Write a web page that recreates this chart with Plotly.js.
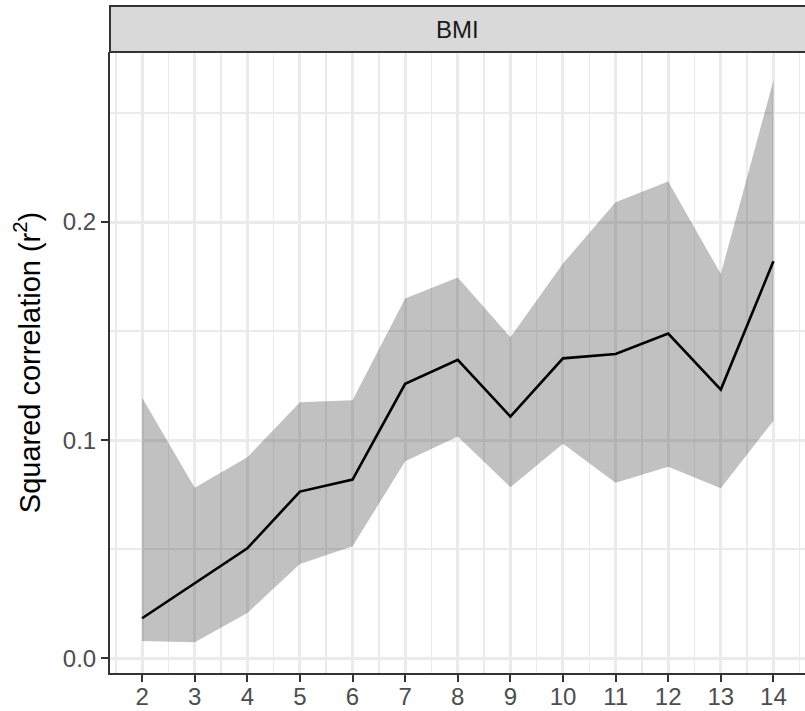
<!DOCTYPE html>
<html>
<head>
<meta charset="utf-8">
<script src="https://cdn.plot.ly/plotly-3.0.1.min.js"></script>
<style>html,body{margin:0;padding:0;background:#fff;}#chart{width:805px;height:711px;}</style>
</head>
<body>
<div id="chart"></div>
<script>
const windowSizes = [2, 3, 4, 5, 6, 7, 8, 9, 10, 11, 12, 13, 14];
const meanR2  = [0.0183, 0.0343, 0.0504, 0.0764, 0.0819, 0.1258, 0.1368, 0.1108, 0.1375, 0.1395, 0.1489, 0.1232, 0.1820];
const upperR2 = [0.1194, 0.0782, 0.0921, 0.1174, 0.1183, 0.1650, 0.1746, 0.1472, 0.1810, 0.2091, 0.2186, 0.1762, 0.2650];
const lowerR2 = [0.0079, 0.0073, 0.0207, 0.0432, 0.0513, 0.0903, 0.1017, 0.0784, 0.0983, 0.0804, 0.0878, 0.0779, 0.1089];
const stripLabel = 'BMI';
const yTitle = 'Squared correlation (r<sup>2</sup>)';

const FONT = 'Liberation Sans, Arial, Helvetica, sans-serif';
const W = 805, H = 711;
const M = {l: 110, r: 0, t: 52, b: 38};
const plotH = H - M.t - M.b;

const traces = [
  {x: windowSizes, y: lowerR2, type: 'scatter', mode: 'lines', line: {width: 0, color: 'rgba(0,0,0,0)'}, hoverinfo: 'skip', showlegend: false},
  {x: windowSizes, y: upperR2, type: 'scatter', mode: 'lines', fill: 'tonexty', fillcolor: 'rgba(51,51,51,0.3)', line: {width: 0, color: 'rgba(0,0,0,0)'}, hoverinfo: 'skip', showlegend: false},
  {x: windowSizes, y: meanR2, type: 'scatter', mode: 'lines', line: {color: '#000000', width: 2.6}, showlegend: false}
];

const layout = {
  width: W, height: H,
  margin: M,
  paper_bgcolor: '#ffffff', plot_bgcolor: '#ffffff',
  font: {family: FONT, color: '#4D4D4D'},
  showlegend: false,
  xaxis: {
    range: [1.39, 14.6], tickmode: 'array', tickvals: windowSizes, ticktext: windowSizes.map(String),
    showgrid: true, gridcolor: '#EBEBEB', gridwidth: 3,
    minor: {dtick: 0.5, tick0: 1.5, showgrid: true, gridcolor: '#EBEBEB', gridwidth: 1.5, ticklen: 0},
    zeroline: false, showline: true, linecolor: '#333333', linewidth: 2,
    ticks: 'outside', ticklen: 7, tickwidth: 2, tickcolor: '#333333',
    ticklabelstandoff: -6,
    tickfont: {family: FONT, size: 24, color: '#4D4D4D'}, automargin: false
  },
  yaxis: {
    range: [-0.0068, 0.278], tickmode: 'array', tickvals: [0, 0.1, 0.2], ticktext: ['0.0', '0.1', '0.2'],
    showgrid: true, gridcolor: '#EBEBEB', gridwidth: 3,
    minor: {tickmode: 'array', tickvals: [0.05, 0.15, 0.25], showgrid: true, gridcolor: '#EBEBEB', gridwidth: 1.5, ticklen: 0},
    zeroline: false, showline: true, linecolor: '#333333', linewidth: 2,
    ticks: 'outside', ticklen: 7, tickwidth: 2, tickcolor: '#333333',
    tickfont: {family: FONT, size: 24, color: '#4D4D4D'},
    title: {text: yTitle, font: {family: FONT, size: 29, color: '#000000'}, standoff: 14},
    automargin: false
  },
  shapes: [
    {type: 'rect', xref: 'paper', yref: 'paper', x0: 0, x1: 1.01, y0: 1, y1: 1 + 46 / plotH,
     fillcolor: '#D9D9D9', line: {color: '#333333', width: 2}, layer: 'above'}
  ],
  annotations: [
    {xref: 'paper', yref: 'paper', x: 0.5, y: 1 + 23 / plotH, text: stripLabel, showarrow: false,
     xanchor: 'center', yanchor: 'middle', font: {family: FONT, size: 24, color: '#1A1A1A'}}
  ]
};

Plotly.newPlot('chart', traces, layout, {displayModeBar: false, staticPlot: true});
</script>
</body>
</html>
